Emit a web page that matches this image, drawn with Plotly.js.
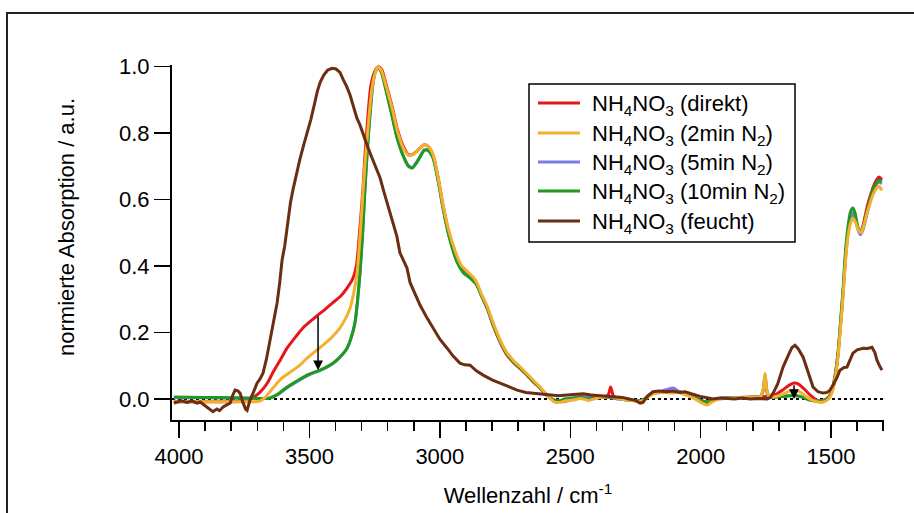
<!DOCTYPE html>
<html>
<head>
<meta charset="utf-8">
<script src="https://cdn.plot.ly/plotly-3.0.1.min.js"></script>
<style>
  html, body { margin: 0; padding: 0; background: #fff; overflow: hidden; }
  #chart { width: 914px; height: 513px; position: absolute; left: 0; top: 0; }
  #frame { position: absolute; left: 6px; top: 12px; width: 940px; height: 540px;
           border: 2px solid #222; box-shadow: 1px 1px 1px #999; pointer-events: none; }
</style>
</head>
<body>
<div id="chart"></div>
<div id="frame"></div>
<script>
// ---- data (wavenumber in cm^-1, normalised absorbance) ----
const seriesNames = [
  "NH<sub>4</sub>NO<sub>3</sub> (direkt)",
  "NH<sub>4</sub>NO<sub>3</sub> (2min N<sub>2</sub>)",
  "NH<sub>4</sub>NO<sub>3</sub> (5min N<sub>2</sub>)",
  "NH<sub>4</sub>NO<sub>3</sub> (10min N<sub>2</sub>)",
  "NH<sub>4</sub>NO<sub>3</sub> (feucht)"
];

const wnDirekt = [4020,3900,3800,3750,3720,3690,3660,3640,3610,3586,3550,3525,3490,3467,3440,3410,3380,3356,3335,3320,3306,3295,3287,3275,3265,3250,3235,3222,3202,3180,3164,3140,3120,3100,3076,3060,3045,3026,3005,2988,2965,2942,2920,2896,2870,2857,2840,2819,2795,2769,2745,2719,2690,2666,2640,2616,2595,2577,2550,2528,2500,2470,2440,2410,2380,2355,2345,2335,2320,2290,2260,2240,2215,2185,2150,2110,2080,2050,2020,1990,1970,1940,1900,1850,1800,1770,1740,1710,1684,1660,1642,1625,1600,1580,1554,1530,1510,1496,1485,1473,1460,1454,1445,1435,1425,1416,1405,1395,1385,1375,1362,1350,1339,1325,1316,1305];
const absDirekt = [-0.008,-0.008,-0.008,-0.006,0.003,0.02,0.05,0.08,0.12,0.153,0.19,0.214,0.238,0.253,0.27,0.29,0.31,0.334,0.36,0.40,0.52,0.63,0.734,0.86,0.94,0.985,1.0,0.99,0.935,0.87,0.815,0.76,0.735,0.738,0.755,0.765,0.76,0.734,0.66,0.583,0.50,0.442,0.40,0.382,0.36,0.343,0.31,0.274,0.22,0.171,0.135,0.111,0.09,0.072,0.05,0.033,0.015,0.003,-0.006,-0.008,-0.003,0.004,0.006,0.003,0.005,0.012,0.036,0.01,0.003,0.002,-0.004,-0.006,0.0,0.018,0.022,0.02,0.022,0.015,0.005,-0.008,-0.01,0.0,0.003,0.005,0.006,0.008,0.008,0.015,0.028,0.042,0.048,0.045,0.028,0.012,-0.003,-0.004,0.005,0.027,0.07,0.14,0.26,0.318,0.42,0.50,0.545,0.56,0.54,0.51,0.505,0.53,0.577,0.61,0.637,0.66,0.668,0.66];

const wn2min = [4020,3800,3720,3690,3670,3640,3610,3574,3540,3509,3480,3448,3415,3383,3360,3344,3330,3317,3307,3298,3288,3279,3268,3260,3250,3238,3225,3202,3180,3164,3140,3120,3100,3076,3060,3045,3026,3005,2988,2965,2942,2920,2896,2870,2857,2840,2819,2795,2769,2745,2719,2690,2666,2640,2616,2595,2577,2560,2540,2520,2490,2460,2430,2400,2370,2345,2320,2290,2260,2240,2215,2185,2150,2110,2080,2050,2020,1995,1975,1955,1930,1900,1850,1800,1770,1760,1753,1746,1735,1710,1684,1660,1642,1620,1600,1580,1554,1530,1510,1496,1485,1473,1460,1454,1445,1435,1425,1416,1405,1395,1385,1375,1362,1350,1339,1325,1316,1305];
const abs2min = [-0.008,-0.008,-0.008,-0.006,0.005,0.033,0.06,0.081,0.10,0.123,0.142,0.162,0.185,0.214,0.245,0.274,0.32,0.382,0.48,0.583,0.70,0.785,0.88,0.935,0.975,1.0,0.99,0.93,0.865,0.81,0.755,0.733,0.737,0.755,0.765,0.76,0.735,0.66,0.585,0.505,0.447,0.405,0.385,0.365,0.348,0.315,0.28,0.228,0.178,0.142,0.117,0.095,0.076,0.055,0.036,0.017,0.002,-0.009,-0.01,-0.006,-0.003,0.002,-0.004,0.002,0.006,0.008,0.002,-0.002,-0.005,-0.008,-0.002,0.015,0.02,0.018,0.02,0.01,0.0,-0.012,-0.018,-0.008,0.0,0.002,0.004,0.006,0.008,0.03,0.078,0.025,0.005,0.008,0.015,0.024,0.027,0.022,0.01,0.0,-0.008,-0.009,0.0,0.02,0.06,0.13,0.25,0.31,0.41,0.49,0.53,0.544,0.53,0.508,0.50,0.52,0.56,0.59,0.615,0.635,0.64,0.628];

const wn5min = [4020,3900,3800,3700,3660,3620,3600,3574,3540,3509,3480,3459,3435,3410,3385,3356,3340,3325,3315,3306,3296,3287,3278,3268,3258,3248,3237,3225,3202,3180,3164,3140,3120,3105,3090,3076,3060,3045,3026,3005,2988,2965,2934,2910,2884,2860,2840,2819,2795,2769,2745,2719,2690,2666,2640,2616,2595,2577,2560,2540,2520,2490,2460,2430,2413,2395,2370,2345,2320,2290,2260,2240,2215,2185,2150,2125,2106,2085,2050,2020,1995,1975,1955,1930,1900,1850,1800,1770,1760,1753,1746,1735,1710,1684,1660,1642,1620,1600,1580,1554,1530,1510,1496,1485,1473,1460,1454,1445,1435,1425,1416,1408,1398,1388,1378,1362,1350,1339,1325,1316,1305];
const abs5min = [0.004,0.004,0.003,0.002,0.002,0.014,0.026,0.04,0.056,0.07,0.08,0.086,0.095,0.107,0.124,0.152,0.184,0.232,0.30,0.382,0.50,0.635,0.75,0.854,0.94,0.983,0.998,0.985,0.916,0.842,0.787,0.732,0.702,0.697,0.712,0.73,0.75,0.75,0.727,0.652,0.576,0.492,0.414,0.382,0.366,0.347,0.312,0.277,0.225,0.176,0.14,0.115,0.093,0.074,0.053,0.035,0.016,0.003,-0.006,-0.006,0.0,0.004,0.008,0.004,0.012,0.004,0.006,0.004,0.0,-0.002,-0.004,-0.006,0.001,0.018,0.024,0.03,0.033,0.024,0.012,0.002,-0.006,-0.008,-0.003,0.002,0.003,0.004,0.006,0.008,0.025,0.06,0.02,0.005,0.006,0.008,0.01,0.012,0.008,0.003,-0.003,-0.006,-0.005,0.002,0.024,0.062,0.135,0.26,0.32,0.43,0.505,0.548,0.558,0.545,0.512,0.494,0.508,0.558,0.595,0.626,0.648,0.652,0.648];

const wn10min = [4020,3900,3800,3700,3660,3651,3620,3600,3574,3540,3509,3480,3459,3435,3410,3385,3356,3340,3325,3315,3306,3296,3287,3278,3268,3258,3248,3237,3225,3202,3180,3164,3140,3120,3105,3090,3076,3060,3045,3026,3005,2988,2965,2934,2910,2884,2860,2840,2819,2795,2769,2745,2719,2690,2666,2640,2616,2595,2577,2560,2540,2520,2490,2460,2430,2400,2370,2345,2320,2290,2260,2240,2215,2185,2150,2110,2080,2050,2020,1995,1975,1955,1930,1900,1850,1800,1770,1760,1753,1746,1735,1710,1684,1660,1642,1620,1600,1580,1554,1530,1510,1496,1485,1473,1460,1454,1445,1435,1425,1416,1408,1398,1388,1378,1362,1350,1339,1325,1316,1305];
const abs10min = [0.006,0.005,0.004,0.002,0.002,0.003,0.015,0.028,0.042,0.058,0.072,0.081,0.087,0.096,0.108,0.125,0.153,0.185,0.232,0.30,0.382,0.50,0.635,0.75,0.854,0.94,0.983,0.998,0.985,0.914,0.84,0.785,0.73,0.70,0.695,0.71,0.728,0.748,0.748,0.725,0.65,0.574,0.49,0.412,0.38,0.364,0.345,0.31,0.275,0.223,0.174,0.138,0.113,0.092,0.073,0.052,0.034,0.016,0.004,-0.004,-0.005,0.0,0.002,0.006,0.0,0.004,0.006,0.006,0.002,-0.002,-0.004,-0.006,0.0,0.016,0.02,0.022,0.02,0.012,0.002,-0.006,-0.008,-0.002,0.002,0.003,0.004,0.006,0.008,0.03,0.075,0.025,0.005,0.006,0.008,0.01,0.01,0.008,0.003,-0.003,-0.006,-0.005,0.002,0.025,0.065,0.14,0.27,0.33,0.44,0.52,0.565,0.575,0.56,0.52,0.50,0.515,0.565,0.60,0.63,0.652,0.658,0.655];

const wnFeucht = [4020,3990,3970,3950,3930,3919,3900,3885,3870,3855,3845,3831,3815,3804,3795,3785,3775,3766,3755,3745,3739,3733,3728,3715,3701,3690,3678,3665,3651,3638,3624,3614,3605,3595,3583,3573,3563,3550,3537,3522,3509,3495,3480,3470,3459,3445,3430,3413,3398,3383,3370,3357,3344,3330,3318,3306,3292,3279,3265,3250,3240,3229,3215,3200,3179,3165,3153,3140,3126,3114,3095,3076,3050,3026,3000,2972,2950,2923,2905,2884,2860,2834,2800,2769,2735,2704,2670,2643,2610,2577,2545,2512,2480,2450,2420,2390,2360,2330,2300,2275,2250,2232,2221,2205,2183,2160,2130,2106,2080,2060,2030,2002,1975,1953,1926,1900,1870,1840,1810,1780,1760,1745,1732,1722,1705,1684,1665,1650,1638,1625,1607,1590,1569,1550,1531,1515,1504,1490,1477,1466,1450,1439,1428,1416,1400,1377,1360,1343,1332,1324,1314,1305];
const absFeucht = [-0.012,-0.005,-0.01,-0.006,-0.012,-0.009,-0.02,-0.03,-0.038,-0.03,-0.035,-0.024,-0.018,-0.012,0.01,0.027,0.025,0.018,-0.01,-0.03,-0.034,-0.015,-0.003,0.02,0.048,0.06,0.078,0.12,0.177,0.23,0.289,0.35,0.418,0.46,0.53,0.59,0.63,0.68,0.72,0.765,0.80,0.84,0.89,0.925,0.953,0.975,0.99,0.995,0.993,0.983,0.96,0.94,0.914,0.875,0.845,0.824,0.79,0.764,0.735,0.705,0.685,0.665,0.625,0.585,0.532,0.49,0.44,0.42,0.394,0.35,0.315,0.283,0.245,0.213,0.18,0.153,0.13,0.108,0.103,0.102,0.085,0.072,0.058,0.048,0.036,0.027,0.02,0.018,0.014,0.012,0.01,0.012,0.014,0.016,0.012,0.01,0.008,0.006,0.005,0.0,-0.004,-0.012,-0.01,0.008,0.022,0.024,0.022,0.024,0.02,0.022,0.014,0.008,0.004,0.0,0.003,0.002,0.0,0.003,0.0,0.002,0.0,0.0,0.005,0.018,0.045,0.096,0.13,0.155,0.162,0.15,0.126,0.085,0.036,0.022,0.018,0.02,0.027,0.045,0.065,0.087,0.095,0.096,0.115,0.138,0.148,0.153,0.152,0.156,0.14,0.117,0.1,0.087];

const xTickVals = [4000, 3500, 3000, 2500, 2000, 1500];
const yTickVals = [0.0, 0.2, 0.4, 0.6, 0.8, 1.0];
const xTitle = 'Wellenzahl / cm<sup>-1</sup>';
const yTitle = 'normierte Absorption / a.u.';

// ---- traces ----
const FONT = '"Liberation Sans", Arial, Helvetica, sans-serif';
const colors = ['#e8161b', '#f2b02e', '#7b7be6', '#1f9a1f', '#6b2e12'];
function tr(x, y, i, smooth) {
  return {
    x: x, y: y, type: 'scatter', mode: 'lines', name: seriesNames[i],
    showlegend: false,
    line: {color: colors[i], width: 3, shape: smooth ? 'spline' : 'linear', smoothing: 0.6},
    hoverinfo: 'x+y+name'
  };
}
const data = [
  tr(wnDirekt, absDirekt, 0, true),
  tr(wn5min, abs5min, 2, true),
  tr(wn10min, abs10min, 3, true),
  tr(wn2min, abs2min, 1, true),
  tr(wnFeucht, absFeucht, 4, false)
];

// ---- legend drawn as paper-referenced shapes + annotations ----
const legX0 = 0.5014, legX1 = 0.875, legY0 = 0.5014, legY1 = 0.9465;
const legRows = [0.893, 0.8085, 0.7268, 0.645, 0.5606];
const shapes = [{
  type: 'line', xref: 'paper', x0: 0, x1: 1, yref: 'y', y0: 0, y1: 0,
  line: {color: '#000', width: 2, dash: 'dot'}, layer: 'below'
}, {
  type: 'rect', xref: 'paper', yref: 'paper', x0: legX0, x1: legX1, y0: legY0, y1: legY1,
  line: {color: '#000', width: 1.5}, fillcolor: '#fff', layer: 'above'
}];
const annotations = [
  {x: 3467, y: 0.087, ax: 3467, ay: 0.253, xref: 'x', yref: 'y', axref: 'x', ayref: 'y',
   text: '', showarrow: true, arrowhead: 2, arrowsize: 1.3, arrowwidth: 1.5, arrowcolor: '#000'},
  {x: 1642, y: 0.0, ax: 1642, ay: 0.046, xref: 'x', yref: 'y', axref: 'x', ayref: 'y',
   text: '', showarrow: true, arrowhead: 2, arrowsize: 1.3, arrowwidth: 1.5, arrowcolor: '#000'},
  {xref: 'paper', yref: 'paper', x: -0.1475, y: 0.5437, xanchor: 'center', yanchor: 'middle',
   textangle: -90, showarrow: false, text: yTitle, font: {family: FONT, size: 22, color: '#000'}}
];
seriesNames.forEach((nm, i) => {
  shapes.push({type: 'line', xref: 'paper', yref: 'paper', x0: 0.514, x1: 0.573,
    y0: legRows[i], y1: legRows[i], line: {color: colors[i], width: 3}, layer: 'above'});
  annotations.push({xref: 'paper', yref: 'paper', x: 0.587, y: legRows[i] - 0.006,
    xanchor: 'left', yanchor: 'middle', showarrow: false, text: nm,
    font: {family: FONT, size: 22, color: '#000'}});
});

const layout = {
  width: 914, height: 513,
  margin: {l: 172, r: 30, t: 65, b: 93},
  paper_bgcolor: '#fff', plot_bgcolor: '#fff',
  font: {family: FONT, size: 22, color: '#000'},
  showlegend: false,
  xaxis: {
    range: [4027, 1297],
    tickvals: xTickVals, ticktext: xTickVals.map(String),
    tickfont: {family: FONT, size: 22},
    showline: true, linecolor: '#000', linewidth: 2,
    ticks: 'outside', ticklen: 16, tickwidth: 1.5, tickcolor: '#000',
    minor: {dtick: 100, tick0: 0, ticks: 'outside', ticklen: 9, tickwidth: 1.5, tickcolor: '#000', showgrid: false},
    showgrid: false, zeroline: false, mirror: false,
    title: {text: xTitle, font: {family: FONT, size: 22}, standoff: 19}
  },
  yaxis: {
    range: [-0.063, 1.005],
    tickvals: yTickVals, ticktext: yTickVals.map(v => v.toFixed(1)),
    tickfont: {family: FONT, size: 22},
    showline: true, linecolor: '#000', linewidth: 2,
    ticks: 'outside', ticklen: 16, tickwidth: 1.5, tickcolor: '#000',
    showgrid: false, zeroline: false, mirror: false
  },
  shapes: shapes,
  annotations: annotations
};

Plotly.newPlot('chart', data, layout, {displayModeBar: false, staticPlot: true});
</script>
</body>
</html>
